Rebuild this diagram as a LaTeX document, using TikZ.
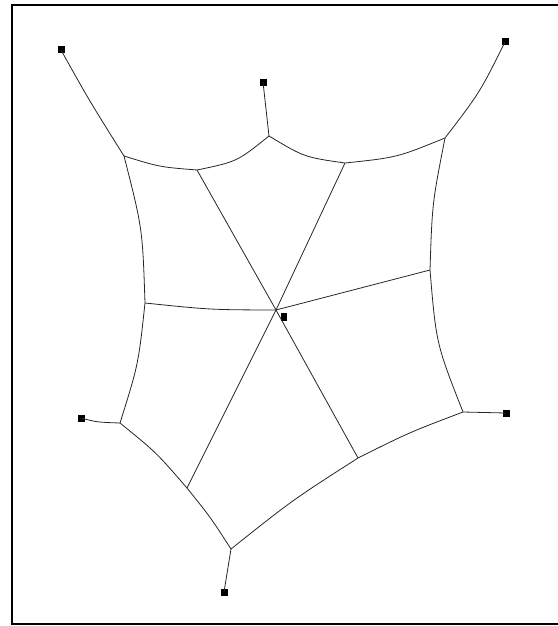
\documentclass[tikz,border=0pt]{standalone}
\begin{document}
\begin{tikzpicture}[x=1pt,y=-1pt,
  anchorsq/.style={draw=none,fill=black,minimum size=7pt,inner sep=0pt,outer sep=0pt},
  thread/.style={line width=0.8pt,black!85},
  frame/.style={line width=2pt,black}]
\useasboundingbox (0,0) rectangle (557,626);
\draw[frame] (558,5) -- (12,5) -- (12,624) -- (558,624);
% anchors
\node[anchorsq] (a1) at (61,50) {};
\node[anchorsq] (a2) at (263,82) {};
\node[anchorsq] (a3) at (505,42) {};
\node[anchorsq] (al) at (81,418) {};
\node[anchorsq] (ar) at (506,413) {};
\node[anchorsq] (ab) at (224,592) {};
\node[anchorsq,minimum width=6pt,minimum height=8pt] (ac) at (284,317) {};
% junctions
\coordinate (j1) at (124,156);
\coordinate (j2) at (269,136);
\coordinate (j3) at (445,138);
\coordinate (j4) at (120,423);
\coordinate (j5) at (463,412);
\coordinate (j6) at (231,549);
\coordinate (hub) at (276,310);
% spoke ends
\coordinate (s1) at (197,170);
\coordinate (s2) at (345,163);
\coordinate (s3) at (145,303);
\coordinate (s4) at (430,270);
\coordinate (s5) at (187,488);
\coordinate (s6) at (358,458);
% tethers
\draw[thread] (a1.center) .. controls (89.5,101) .. (j1);
\draw[thread] (a2.center) .. controls (266,109.7) .. (j2);
\draw[thread] (a3.center) .. controls (479.7,92.7) .. (j3);
\draw[thread] (al.center) .. controls (96.8,422.2) .. (j4);
\draw[thread] (ar.center) -- (j5);
\draw[thread] (ab.center) -- (j6);
% frame threads
\draw[thread] (j1) .. controls (159.5,167) .. (s1) .. controls (237,161.7) .. (j2);
\draw[thread] (j2) .. controls (304.3,157.2) .. (s2) .. controls (397,157.5) .. (j3);
\draw[thread] (j1) .. controls (142.5,228.5) .. (s3) .. controls (138.4,364.3) .. (j4);
\draw[thread] (j3) .. controls (432.2,203.3) .. (s4) .. controls (436.2,343.7) .. (j5);
\draw[thread] (j4) .. controls (156.3,452.5) .. (s5) .. controls (210.6,517.4) .. (j6);
\draw[thread] (j6) .. controls (292.2,500.2) .. (s6) .. controls (409.5,432.3) .. (j5);
% spokes
\draw[thread] (hub) -- (s1);
\draw[thread] (hub) -- (s2);
\draw[thread] (hub) .. controls (210.5,309.8) .. (s3);
\draw[thread] (hub) -- (s4);
\draw[thread] (hub) -- (s5);
\draw[thread] (hub) -- (s6);
\end{tikzpicture}
\end{document}
